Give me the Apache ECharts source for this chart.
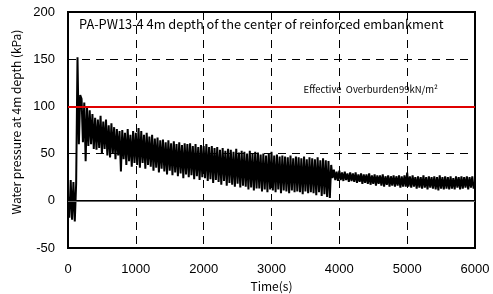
<!DOCTYPE html>
<html>
<head>
<meta charset="utf-8">
<script src="https://cdn.jsdelivr.net/npm/echarts@6/dist/echarts.min.js"></script>
<style>
  html, body { margin: 0; padding: 0; background: #fff; }
  #main { width: 493px; height: 294px; }
</style>
</head>
<body>
<div id="main"></div>
<script>
// one reading every 20 s, starting at 0 s
var STEP_S = 20;
var pressureKPa = [
  5, -18, 22, -20, 20, -22, 18, 152, 60, 112,        // 0 - 180
  108, 62, 104, 42, 100, 58, 96, 60, 92, 55,         // 200 - 380
  88, 54, 86, 56, 90, 50, 84, 55, 86, 48,            // 400 - 580
  80, 46, 82, 50, 78, 44, 76, 48, 74, 31,            // 600 - 780
  75, 44, 72, 38, 76, 42, 70, 36, 74, 40,            // 800 - 980
  72, 38, 77, 35, 74, 40, 70, 34, 72, 38,            // 1000 - 1180
  68, 36, 70, 32, 66, 35, 67, 30, 64, 34,            // 1200 - 1380
  65, 31, 62, 28, 64, 32, 61, 27, 63, 30,            // 1400 - 1580
  60, 26, 62, 29, 59, 24, 61, 28, 60, 25,            // 1600 - 1780
  61, 27, 58, 23, 60, 26, 57, 22, 59, 25,            // 1800 - 1980
  58, 24, 60, 21, 57, 23, 58, 19, 56, 22,            // 2000 - 2180
  57, 20, 54, 17, 56, 21, 53, 16, 55, 19,            // 2200 - 2380
  54, 17, 52, 15, 55, 18, 51, 14, 53, 16,            // 2400 - 2580
  52, 15, 50, 12, 53, 14, 50, 11, 52, 13,            // 2600 - 2780
  51, 13, 49, 10, 50, 12, 48, 9, 50, 12,             // 2800 - 2980
  52, 11, 48, 9, 49, 12, 47, 8, 48, 11,              // 3000 - 3180
  47, 10, 46, 8, 48, 11, 45, 9, 47, 10,              // 3200 - 3380
  46, 9, 45, 7, 47, 10, 44, 8, 46, 9,                // 3400 - 3580
  45, 8, 44, 6, 46, 9, 43, 5, 45, 7,                 // 3600 - 3780
  43, 4, 42, 3, 38, 24, 33, 22, 31, 21,              // 3800 - 3980
  32, 22, 30, 21, 31, 22, 29, 20, 30, 21,            // 4000 - 4180
  29, 20, 30, 19, 28, 20, 29, 18, 28, 19,            // 4200 - 4380
  28, 18, 29, 17, 27, 18, 28, 16, 27, 18,            // 4400 - 4580
  27, 16, 28, 15, 26, 17, 27, 15, 26, 16,            // 4600 - 4780
  27, 15, 26, 16, 27, 14, 26, 15, 27, 15,            // 4800 - 4980
  30, 15, 26, 14, 27, 15, 25, 13, 26, 14,            // 5000 - 5180
  25, 13, 27, 14, 25, 12, 26, 14, 25, 13,            // 5200 - 5380
  26, 12, 25, 11, 27, 13, 25, 12, 26, 13,            // 5400 - 5580
  25, 12, 26, 13, 24, 12, 26, 14, 25, 12,            // 5600 - 5780
  26, 13, 25, 14, 26, 12, 25, 14, 26, 13,            // 5800 - 5980
  20                                                 // 6000
];
var xTicks = [0, 1000, 2000, 3000, 4000, 5000, 6000];
var yTicks = [-50, 0, 50, 100, 150, 200];
var overburdenKPa = 99;

var chart = echarts.init(document.getElementById('main'));

var seriesData = pressureKPa.map(function (v, i) {
  return [i * STEP_S, v];
});

var dashed = { color: '#000', width: 1, type: [8, 6] };

chart.setOption({
  animation: false,
  title: {
    text: 'PA-PW13-4 4m depth of the center of reinforced embankment',
    left: 74,
    top: 13,
    textStyle: { fontFamily: 'Noto Sans CJK JP', fontSize: 12.8, fontWeight: 'normal', color: '#000' }
  },
  grid: {
    left: 68, right: 18, top: 12, bottom: 46,
    outerBoundsMode: 'none',
    containLabel: false,
    show: true, borderColor: '#000', borderWidth: 2
  },
  xAxis: {
    type: 'value',
    min: xTicks[0], max: xTicks[xTicks.length - 1], interval: 1000,
    name: 'Time(s)',
    nameLocation: 'middle',
    nameGap: 29,
    nameTextStyle: { fontFamily: 'Noto Sans CJK JP', fontSize: 12, color: '#000' },
    axisLine: { lineStyle: { color: '#000', width: 2 } },
    axisTick: { show: false },
    axisLabel: {
      fontFamily: 'Liberation Sans', fontSize: 13, color: '#000', margin: 15,
      formatter: function (v) { return String(v); }
    },
    splitLine: { show: true, lineStyle: dashed }
  },
  yAxis: {
    type: 'value',
    min: yTicks[0], max: yTicks[yTicks.length - 1], interval: 50,
    name: 'Water pressure at 4m depth (kPa)',
    nameLocation: 'middle',
    nameGap: 44,
    nameTextStyle: { fontFamily: 'Noto Sans CJK JP', fontSize: 12, color: '#000', padding: [0, 0, 0, 16] },
    axisLine: { lineStyle: { color: '#000', width: 2 } },
    axisTick: { show: true, inside: true, length: 5, lineStyle: { color: '#000' } },
    axisLabel: { fontFamily: 'Liberation Sans', fontSize: 13, color: '#000', margin: 13 },
    splitLine: { show: false }
  },
  series: [{
    type: 'line',
    data: seriesData,
    showSymbol: false,
    lineStyle: { color: '#000', width: 2 },
    z: 3,
    markLine: {
      silent: true,
      symbol: 'none',
      animation: false,
      data: [
        { yAxis: 150, lineStyle: dashed, label: { show: false } },
        { yAxis: 50, lineStyle: dashed, label: { show: false } },
        { yAxis: 0, lineStyle: { color: '#666', width: 1, type: 'solid' }, label: { show: false } },
        {
          yAxis: overburdenKPa + 1,
          lineStyle: { color: '#e00000', width: 2, type: 'solid' },
          label: {
            show: true,
            position: 'insideEndTop',
            formatter: 'Effective  Overburden' + overburdenKPa + 'kN/m²',
            fontFamily: 'Noto Sans CJK JP',
            fontSize: 9.5,
            color: '#000',
            padding: [0, 32, 7, 0]
          }
        }
      ]
    }
  }]
});
</script>
</body>
</html>
